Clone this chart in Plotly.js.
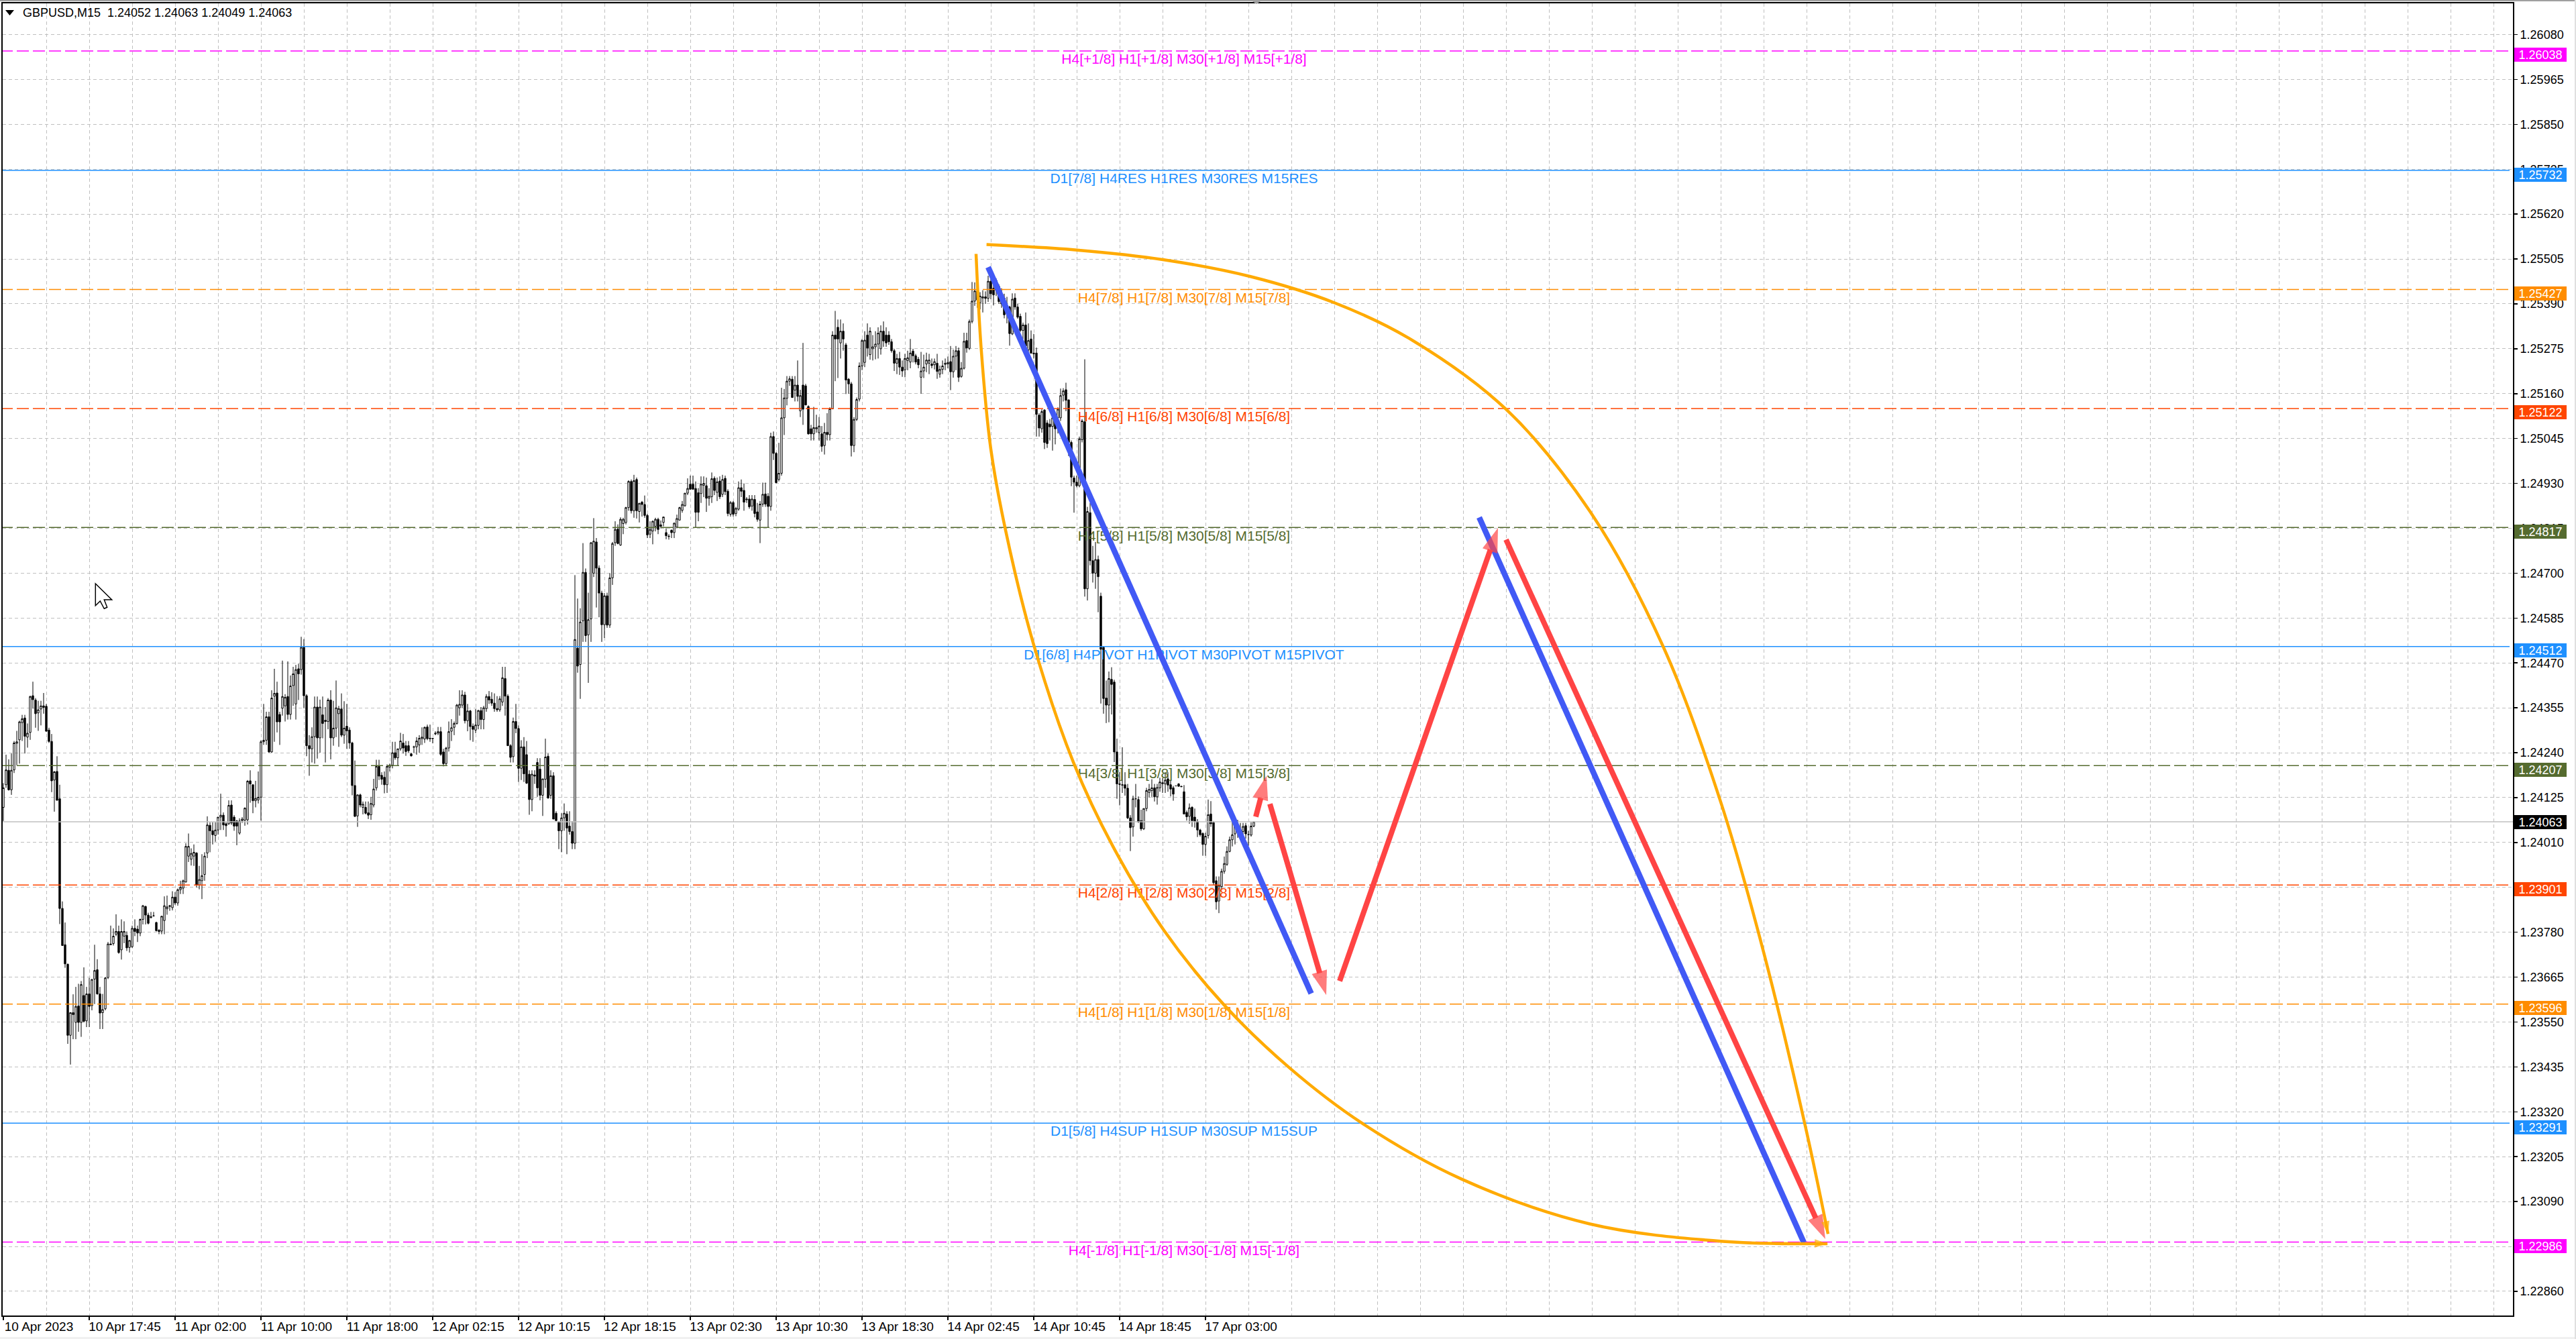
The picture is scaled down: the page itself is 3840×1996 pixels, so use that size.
<!DOCTYPE html>
<html><head><meta charset="utf-8">
<script src="https://cdn.plot.ly/plotly-3.0.1.min.js"></script>
<style>html,body{margin:0;padding:0;background:#fff}#c{width:3840px;height:1996px}</style></head>
<body><div id="c"></div>
<script>
// Prices are held as points above 1.20000 (1 point = 0.00001)
const priceBase = 1.2;
const opens = [
4100,4158,4195,4145,4196,4264,4273,4317,4329,4280,
4292,4386,4375,4342,4352,4360,4359,4298,4269,4170,
4192,4122,3841,3748,3698,3516,3574,3549,3591,3549,
3618,3553,3622,3592,3660,3684,3622,3574,3584,3664,
3750,3751,3775,3782,3735,3770,3772,3741,3743,3790,
3788,3778,3813,3846,3824,3820,3822,3805,3785,3783,
3810,3840,3846,3843,3870,3855,3889,3893,3909,3975,
3967,3975,3983,3901,3912,3928,3983,4054,4040,4028,
4042,4075,4080,4058,4058,4106,4075,4065,4034,4066,
4067,4068,4168,4158,4117,4119,4126,4268,4272,4332,
4242,4385,4393,4338,4354,4360,4384,4338,4412,4365,
4455,4453,4510,4386,4258,4250,4281,4357,4278,4337,
4323,4320,4375,4278,4303,4340,4352,4285,4308,4298,
4265,4156,4078,4132,4100,4100,4086,4081,4106,4150,
4205,4182,4177,4158,4203,4208,4240,4227,4250,4265,
4258,4258,4237,4254,4255,4260,4276,4275,4306,4277,
4276,4288,4290,4294,4242,4212,4252,4295,4305,4315,
4355,4362,4388,4322,4347,4308,4298,4310,4348,4325,
4353,4384,4377,4367,4353,4350,4370,4430,4385,4258,
4230,4320,4302,4200,4255,4235,4185,4120,4183,4215,
4198,4131,4172,4231,4131,4181,4085,4063,4040,4073,
4083,4052,4038,4008,4508,4466,4578,4702,4542,4583,
4700,4780,4713,4649,4568,4642,4567,4688,4778,4813,
4772,4827,4830,4868,4935,4860,4940,4858,4882,4876,
4848,4800,4808,4820,4838,4824,4830,4804,4795,4810,
4804,4818,4836,4861,4873,4905,4928,4928,4917,4906,
4904,4925,4924,4892,4896,4943,4907,4936,4902,4943,
4910,4851,4881,4853,4864,4919,4912,4888,4890,4872,
4889,4857,4836,4877,4903,4897,4871,5050,5007,4940,
4956,5098,5148,5192,5197,5169,5182,5116,5182,5180,
5127,5070,5057,5070,5060,5057,5027,5061,5055,5121,
5310,5330,5290,5320,5285,5197,5185,5027,5094,5146,
5231,5240,5310,5260,5275,5280,5287,5275,5320,5310,
5310,5293,5270,5238,5250,5228,5221,5245,5241,5269,
5257,5248,5202,5218,5236,5238,5236,5234,5238,5210,
5222,5235,5236,5242,5216,5256,5270,5204,5225,5296,
5276,5345,5397,5423,5393,5405,5408,5404,5448,5430,
5450,5435,5400,5405,5380,5382,5313,5405,5382,5358,
5322,5336,5272,5300,5264,5264,5105,5070,5118,5085,
5082,5076,5090,5098,5098,5156,5170,5144,5035,4944,
4933,4924,5042,5088,4660,4855,4732,4700,4735,4641,
4510,4380,4362,4428,4421,4242,4160,4158,4158,4149,
4073,4050,4122,4120,4066,4045,4097,4138,4143,4150,
4127,4150,4163,4160,4173,4158,4150,4155,4160,4154,
4140,4087,4077,4100,4075,4064,4042,4033,4005,4028,
4083,4061,3912,3860,3897,3936,3954,3987,4017,4032,
4052,4040,4038,4053,4030,4029,4052];
const highs = [
4162,4235,4223,4238,4270,4296,4322,4337,4337,4315,
4386,4422,4380,4373,4373,4393,4365,4304,4288,4193,
4231,4158,3859,3805,3700,3575,3621,3640,3648,3655,
3690,3640,3663,3660,3748,3711,3640,3622,3665,3755,
3797,3790,3826,3797,3813,3808,3782,3760,3797,3813,
3797,3815,3850,3848,3830,3832,3832,3807,3788,3822,
3872,3874,3850,3885,3883,3892,3912,3915,4008,4033,
3995,4005,3985,3950,3980,3985,4077,4062,4062,4062,
4075,4135,4087,4062,4118,4118,4080,4068,4072,4075,
4100,4170,4195,4158,4168,4192,4272,4365,4345,4345,
4400,4455,4422,4345,4476,4390,4474,4438,4460,4465,
4468,4537,4531,4390,4285,4305,4384,4384,4376,4384,
4357,4380,4400,4373,4425,4360,4392,4372,4365,4305,
4268,4220,4133,4135,4115,4115,4115,4127,4173,4222,
4222,4190,4192,4210,4212,4268,4268,4250,4291,4288,
4270,4270,4240,4258,4280,4285,4305,4307,4312,4312,
4278,4295,4306,4306,4250,4255,4320,4326,4320,4365,
4400,4400,4396,4365,4350,4315,4352,4350,4357,4360,
4390,4398,4395,4392,4385,4385,4460,4460,4390,4262,
4330,4365,4310,4272,4280,4270,4195,4195,4195,4226,
4226,4173,4276,4238,4195,4190,4090,4065,4085,4110,
4090,4090,4065,4695,4635,4610,4777,4712,4650,4780,
4841,4790,4720,4655,4649,4650,4700,4780,4833,4825,
4843,4842,4870,4938,4940,4952,4945,4880,4885,4899,
4852,4833,4835,4842,4842,4835,4844,4815,4800,4812,
4830,4850,4870,4885,4905,4943,4950,4950,4935,4918,
4948,4948,4945,4918,4958,4948,4945,4948,4952,4950,
4915,4885,4885,4870,4935,4940,4930,4895,4900,4900,
4900,4880,4885,4932,4932,4905,5060,5063,5010,5034,
5175,5172,5205,5205,5205,5205,5245,5170,5290,5185,
5130,5080,5126,5106,5100,5077,5085,5110,5125,5320,
5372,5350,5350,5340,5290,5200,5190,5100,5150,5240,
5300,5320,5340,5330,5310,5320,5330,5335,5345,5330,
5320,5300,5275,5262,5267,5245,5262,5270,5300,5275,
5262,5254,5267,5260,5265,5262,5250,5250,5262,5232,
5245,5250,5255,5282,5273,5282,5278,5241,5316,5316,
5350,5446,5445,5440,5420,5425,5422,5462,5460,5450,
5455,5440,5430,5416,5408,5385,5417,5417,5390,5365,
5342,5368,5340,5322,5313,5278,5110,5120,5120,5092,
5095,5100,5100,5125,5173,5174,5188,5145,5040,4950,
4950,5050,5095,5248,4870,4880,4770,4780,4745,4650,
4512,4425,4448,4459,4427,4276,4190,4254,4190,4160,
4080,4130,4160,4128,4094,4097,4150,4160,4172,4160,
4160,4176,4175,4190,4190,4170,4155,4156,4162,4155,
4157,4092,4110,4103,4097,4070,4045,4036,4035,4120,
4116,4065,3923,3923,3943,3974,4000,4025,4065,4065,
4068,4060,4060,4060,4040,4062,4063];
const lows = [
4065,4150,4143,4132,4188,4208,4212,4270,4238,4253,
4273,4353,4304,4296,4310,4340,4294,4265,4139,4089,
4118,3801,3745,3689,3494,3441,3506,3506,3525,3512,
3549,3537,3537,3580,3596,3620,3532,3532,3580,3660,
3748,3746,3770,3725,3710,3752,3732,3728,3740,3770,
3755,3770,3800,3800,3800,3815,3820,3782,3775,3775,
3775,3825,3835,3836,3850,3848,3878,3878,3907,3960,
3951,3950,3895,3890,3865,3912,3970,3985,4005,4012,
4030,4042,4042,4025,4055,4055,4040,4003,4030,4060,
4053,4056,4112,4085,4100,4110,4066,4260,4260,4240,
4240,4268,4292,4260,4335,4320,4325,4325,4360,4325,
4375,4440,4354,4231,4181,4215,4212,4225,4240,4277,
4215,4300,4223,4258,4280,4255,4280,4263,4250,4250,
4131,4075,4050,4100,4082,4082,4070,4068,4100,4143,
4170,4158,4136,4137,4192,4200,4222,4207,4245,4238,
4232,4240,4230,4240,4235,4240,4260,4265,4272,4268,
4264,4285,4285,4232,4205,4208,4243,4270,4285,4312,
4335,4355,4315,4295,4272,4268,4290,4300,4300,4300,
4345,4365,4360,4345,4345,4345,4360,4335,4258,4215,
4215,4290,4165,4170,4165,4160,4081,4090,4160,4127,
4118,4078,4150,4122,4122,4070,4065,3993,3985,4040,
3980,4030,3993,3993,4445,4378,4524,4524,4419,4524,
4690,4612,4587,4524,4534,4560,4560,4670,4770,4774,
4770,4800,4825,4860,4853,4842,4840,4830,4845,4842,
4790,4790,4774,4807,4800,4815,4820,4787,4786,4790,
4790,4815,4835,4855,4870,4900,4915,4915,4817,4833,
4880,4895,4857,4873,4880,4900,4885,4890,4895,4900,
4846,4845,4845,4846,4860,4895,4860,4880,4865,4860,
4843,4832,4777,4870,4870,4817,4860,4990,4930,4935,
4950,5054,5130,5180,5150,5140,5140,5100,5080,5130,
5055,5040,5040,5060,5040,5011,5004,5040,5040,5120,
5192,5200,5250,5270,5159,5160,4999,5010,5090,5140,
5220,5228,5255,5247,5245,5248,5250,5260,5280,5280,
5285,5265,5218,5210,5208,5203,5202,5220,5225,5240,
5235,5225,5160,5200,5215,5210,5225,5222,5198,5201,
5210,5220,5225,5169,5201,5220,5190,5201,5222,5265,
5272,5340,5385,5380,5376,5368,5390,5395,5402,5386,
5410,5390,5380,5353,5340,5283,5310,5375,5352,5318,
5300,5276,5262,5262,5250,5050,5050,5060,5018,5021,
5040,5014,5030,5058,5090,5140,5115,5000,4923,4855,
4920,4920,5035,4640,4630,4720,4676,4660,4600,4366,
4340,4316,4318,4338,4216,4122,4105,4137,4130,4070,
3988,4025,4100,4060,4040,4042,4090,4125,4127,4115,
4107,4140,4137,4137,4140,4128,4117,4154,4153,4152,
4083,4066,4058,4050,4048,4024,4025,3976,3976,4020,
4050,3900,3838,3829,3890,3930,3950,3985,4000,4005,
4022,4020,4025,4020,4002,4025,4049];
const closes = [
4150,4196,4145,4195,4265,4268,4319,4327,4282,4290,
4384,4376,4340,4350,4360,4356,4295,4269,4168,4191,
4118,3841,3746,3699,3516,3574,3569,3590,3549,3646,
3552,3622,3590,3659,3682,3622,3573,3582,3663,3750,
3748,3770,3782,3728,3782,3782,3740,3759,3790,3782,
3778,3813,3848,3824,3803,3818,3822,3784,3782,3821,
3848,3845,3848,3870,3855,3889,3895,3912,4000,4000,
3982,3985,3901,3915,3925,3975,4055,4040,4030,4042,
4075,4080,4055,4053,4105,4060,4052,4052,4065,4070,
4098,4167,4160,4117,4123,4126,4268,4272,4332,4242,
4380,4392,4319,4319,4384,4382,4338,4411,4442,4453,
4442,4510,4386,4258,4250,4281,4357,4278,4357,4315,
4320,4375,4278,4303,4355,4353,4285,4303,4296,4265,
4156,4077,4132,4106,4108,4085,4080,4110,4147,4205,
4180,4172,4158,4205,4208,4240,4227,4250,4270,4252,
4243,4245,4232,4255,4270,4277,4280,4305,4276,4276,
4277,4290,4294,4236,4212,4252,4294,4304,4315,4362,
4364,4388,4322,4347,4307,4300,4311,4348,4325,4355,
4384,4375,4367,4353,4350,4378,4432,4385,4258,4228,
4320,4302,4200,4255,4186,4162,4120,4185,4180,4150,
4131,4173,4229,4124,4181,4070,4066,4040,4073,4085,
4047,4038,4008,4530,4462,4575,4702,4540,4581,4778,
4782,4713,4649,4568,4642,4567,4688,4776,4812,4776,
4838,4838,4868,4935,4860,4937,4860,4879,4876,4848,
4798,4812,4833,4838,4812,4820,4844,4796,4794,4804,
4828,4840,4868,4876,4905,4917,4915,4915,4856,4856,
4928,4930,4892,4897,4942,4912,4934,4896,4940,4909,
4853,4881,4851,4866,4919,4910,4882,4890,4870,4890,
4853,4838,4877,4902,4877,4871,5050,5007,4932,4956,
5098,5149,5192,5198,5150,5182,5153,5155,5120,5131,
5057,5057,5073,5073,5077,5025,5061,5055,5121,5310,
5300,5300,5320,5300,5195,5185,5027,5094,5145,5231,
5296,5297,5277,5320,5280,5287,5315,5320,5295,5290,
5293,5270,5238,5250,5228,5218,5250,5252,5264,5257,
5241,5234,5218,5228,5246,5246,5232,5242,5217,5222,
5231,5238,5240,5216,5256,5270,5202,5225,5294,5277,
5345,5397,5423,5400,5410,5408,5404,5448,5416,5413,
5425,5396,5390,5362,5370,5314,5402,5382,5356,5322,
5336,5282,5296,5264,5262,5107,5072,5114,5035,5032,
5075,5098,5070,5120,5155,5167,5143,5035,4946,4933,
4924,5044,5090,4660,4858,4732,4700,4735,4691,4505,
4379,4362,4430,4415,4242,4160,4159,4157,4149,4073,
4048,4122,4122,4063,4045,4097,4143,4146,4150,4127,
4151,4165,4161,4170,4157,4147,4134,4155,4154,4153,
4083,4076,4099,4066,4064,4042,4030,4005,4026,4081,
4058,3907,3858,3900,3936,3956,3987,4017,4030,4055,
4038,4035,4051,4032,4030,4052,4063];

const timeLabels = ["10 Apr 2023","10 Apr 17:45","11 Apr 02:00","11 Apr 10:00","11 Apr 18:00","12 Apr 02:15","12 Apr 10:15","12 Apr 18:15","13 Apr 02:30","13 Apr 10:30","13 Apr 18:30","14 Apr 02:45","14 Apr 10:45","14 Apr 18:45","17 Apr 03:00"];
const priceTicks = [1.2608,1.25965,1.2585,1.25735,1.2562,1.25505,1.2539,1.25275,1.2516,1.25045,1.2493,1.24815,1.247,1.24585,1.2447,1.24355,1.2424,1.24125,1.2401,1.23895,1.2378,1.23665,1.2355,1.23435,1.2332,1.23205,1.2309,1.22975,1.2286];

const levelPrices = [1.26038,1.25732,1.25427,1.25122,1.24817,1.24512,1.24207,1.23901,1.23596,1.23291,1.22986];
const levelColors = ["#FF00FF","#1E90FF","#FF8C00","#FF4500","#556B2F","#1E90FF","#556B2F","#FF4500","#FF8C00","#1E90FF","#FF00FF"];
const levelLabels = ["H4[+1/8] H1[+1/8] M30[+1/8] M15[+1/8]","D1[7/8] H4RES H1RES M30RES M15RES","H4[7/8] H1[7/8] M30[7/8] M15[7/8]","H4[6/8] H1[6/8] M30[6/8] M15[6/8]","H4[5/8] H1[5/8] M30[5/8] M15[5/8]","D1[6/8] H4PIVOT H1PIVOT M30PIVOT M15PIVOT","H4[3/8] H1[3/8] M30[3/8] M15[3/8]","H4[2/8] H1[2/8] M30[2/8] M15[2/8]","H4[1/8] H1[1/8] M30[1/8] M15[1/8]","D1[5/8] H4SUP H1SUP M30SUP M15SUP","H4[-1/8] H1[-1/8] M30[-1/8] M15[-1/8]"];
const lastPrice = 1.24063;

// Hand-drawn forecast: bar position / price pairs
const blueAX = [367,487.4],  blueAY = [1.25484,1.23623];
const blueBX = [550,671],    blueBY = [1.24843,1.22985];
const redAX = [466.75,470.75], redAY = [1.24076,1.24181];
const redBX = [472,493],     redBY = [1.24109,1.23619];
const redCX = [498,557],     redCY = [1.23655,1.24816];
const redDX = [560,679],     redDY = [1.24786,1.22994];
const arcUpX = [366.4,400,432.5,464.8,496,523.8,560.3,592.1,618.5,640,656,672,680];
const arcUpY = [1.25542,1.25528,1.25503,1.2546,1.25393,1.25302,1.25118,1.2485,1.24513,1.24114,1.23729,1.23269,1.23007];
const arcLowX = [362.5,364.4,368,373.5,383.8,398.8,413.5,432.5,454.5,479.4,506.3,543.3,591,640.8,679.8];
const arcLowY = [1.25518,1.25276,1.25018,1.2481,1.24521,1.24215,1.24,1.23785,1.23597,1.23432,1.23291,1.23148,1.23033,1.22988,1.22982];

const FONT = '"Liberation Sans", Arial, sans-serif';
const toPrice = a => a.map(v => +(priceBase + v/1e5).toFixed(5));
const bars = opens.map((_,i)=>i);
const barsPerGrid = 16, barsPerLabel = 32, lastGrid = 928;
const gridVals = []; for (let v=0; v<=lastGrid; v+=barsPerGrid) gridVals.push(v);
const labelVals = timeLabels.map((_,i)=>i*barsPerLabel);

// plot-frame pixel helpers for window furniture only
const W=3840,H=1996,L=4,R=3746,T=5,B=1961;
const fx=p=>(p-L)/(R-L), fy=p=>(B-p)/(B-T);
const pathOf=pts=>'M'+pts.map(p=>fx(p[0]).toFixed(6)+','+fy(p[1]).toFixed(6)).join('L')+'Z';
const win=(x0,y0,x1,y1,c)=>({type:'rect',xref:'paper',yref:'paper',x0:fx(x0),x1:fx(x1),y0:fy(y0),y1:fy(y1),fillcolor:c,line:{width:0},layer:'above'});

const traces = [];
traces.push({type:'candlestick',x:bars,open:toPrice(opens),high:toPrice(highs),low:toPrice(lows),close:toPrice(closes),
  increasing:{line:{color:'#000',width:1},fillcolor:'#fff'},decreasing:{line:{color:'#000',width:1},fillcolor:'#000'},
  whiskerwidth:0,hoverinfo:'skip',showlegend:false});
traces.push({type:'scatter',mode:'lines',x:[-1,940],y:[lastPrice,lastPrice],line:{color:'#c0c0c0',width:1.5},hoverinfo:'skip'});
levelPrices.forEach((p,i)=>{
  traces.push({type:'scatter',mode:'lines',x:[-1,934],y:[p,p],line:{color:levelColors[i],width:1.5,dash:levelColors[i]==='#1E90FF'?'solid':'18px,6px'},hoverinfo:'skip'});
});
traces.push({type:'scatter',mode:'text',x:levelPrices.map(()=>440),y:levelPrices.map(p=>p-0.00024),text:levelLabels,
  textposition:'middle center',textfont:{family:FONT,size:21,color:levelColors},hoverinfo:'skip'});
function stroke(x,y,color,width,head){
  traces.push({type:'scatter',mode:'lines+markers',x,y,line:{color,width,shape:'linear'},
    marker:{color,line:{width:0},angleref:'previous',
      symbol:x.map((_,i)=>i===x.length-1&&head?'arrow':'circle'),
      size:x.map((_,i)=>i===x.length-1&&head?head:(i===0?width:0))},hoverinfo:'skip'});
}
stroke(blueAX,blueAY,'#4159F5',8.5,0);
stroke(blueBX,blueBY,'#4159F5',8.5,0);
stroke(redAX,redAY,'#FF4444',8,38);
stroke(redBX,redBY,'#FF4444',8,38);
stroke(redCX,redCY,'#FF4444',8,38);
stroke(redDX,redDY,'#FF4444',8,38);
function arc(x,y){
  traces.push({type:'scatter',mode:'lines+markers',x,y,line:{color:'#FFAA00',width:4.5,shape:'spline',smoothing:1},
    marker:{color:'#FFAA00',line:{width:0},angleref:'previous',symbol:x.map((_,i)=>i===x.length-1?'arrow':'circle'),size:x.map((_,i)=>i===x.length-1?20:0)},hoverinfo:'skip'});
}
arc(arcLowX,arcLowY);
arc(arcUpX,arcUpY);

const tag=(p,c,shift)=>({xref:'paper',yref:'y',x:fx(3748),y:p,xanchor:'left',yanchor:'middle',yshift:shift,showarrow:false,
  text:p.toFixed(5),font:{family:FONT,size:18,color:'#fff'},bgcolor:c,width:78,height:21,align:'center',borderpad:0,borderwidth:0});
const annotations = levelPrices.map((p,i)=>tag(p,levelColors[i],-6));
annotations.push(tag(lastPrice,'#000',0));
annotations.push({xref:'paper',yref:'paper',x:fx(32),y:fy(19),xanchor:'left',yanchor:'middle',showarrow:false,
  text:'GBPUSD,M15&nbsp;&nbsp;1.24052 1.24063 1.24049 1.24063',font:{family:FONT,size:18,color:'#000'}});

const shapes = [
  win(0,0,W,2,'#a0a0a0'), win(0,1993,W,H,'#f0f0f0'), win(3838,0,W,H,'#e0e0e0'),
  {type:'path',xref:'paper',yref:'paper',path:pathOf([[8,15],[21,15],[14.5,23]]),fillcolor:'#000',line:{width:0},layer:'above'},
  {type:'path',xref:'paper',yref:'paper',path:pathOf([[1864,0],[1882,0],[1873,6]]),fillcolor:'#a0a0a0',line:{width:0},layer:'above'},
  {type:'path',xref:'paper',yref:'paper',path:pathOf([[142.3,870],[142.3,902.7],[149.3,896],[155.3,907.3],[159.7,905.3],[155.3,894],[166.7,894]]),fillcolor:'#fff',line:{color:'#000',width:1.5},layer:'above'}
];

const layout = {
  width:W,height:H,margin:{l:L,r:W-R,t:T,b:H-B,pad:0},paper_bgcolor:'#fff',plot_bgcolor:'#fff',showlegend:false,hovermode:false,boxgap:0.15,
  xaxis:{type:'linear',range:[-0.25,935.25],rangeslider:{visible:false},showline:true,mirror:true,linecolor:'#000',linewidth:2,zeroline:false,
    tickmode:'array',tickvals:labelVals,ticktext:timeLabels,ticks:'outside',ticklen:5,tickcolor:'#000',tickwidth:1.5,showgrid:false,tickangle:0,
    ticklabelshift:53,ticklabelstandoff:-7,tickfont:{family:FONT,size:19,color:'#000'},
    minor:{tickmode:'array',tickvals:gridVals,showgrid:true,gridcolor:'#c0c0c0',griddash:'5px,4px',gridwidth:1,ticks:''}},
  yaxis:{type:'linear',range:[1.22798,1.2616],side:'right',showline:true,mirror:true,linecolor:'#000',linewidth:2,zeroline:false,
    tickmode:'array',tickvals:priceTicks,ticktext:priceTicks.map(v=>v.toFixed(5)),ticks:'outside',ticklen:5,tickcolor:'#000',tickwidth:1.5,
    showgrid:true,gridcolor:'#c0c0c0',griddash:'5px,4px',gridwidth:1,tickfont:{family:FONT,size:18,color:'#000'}},
  annotations,shapes
};
Plotly.newPlot('c',traces,layout,{staticPlot:true,displayModeBar:false});
</script></body></html>
